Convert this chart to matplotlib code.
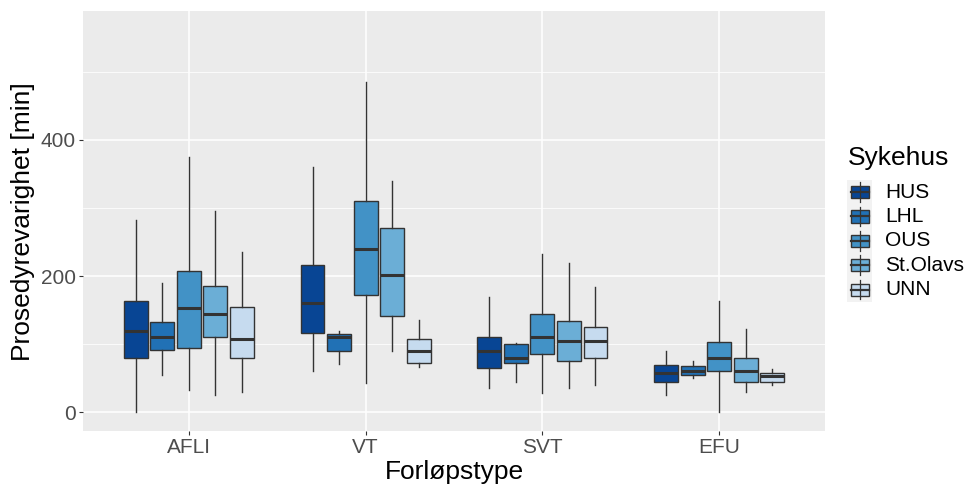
import matplotlib
matplotlib.use("Agg")
import matplotlib.pyplot as plt
from matplotlib.patches import Rectangle

plt.rcParams['font.family'] = ['Liberation Sans', 'DejaVu Sans']

# Data
categories = ['AFLI', 'VT', 'SVT', 'EFU']
hospitals = ['HUS', 'LHL', 'OUS', 'St.Olavs', 'UNN']
colors = ['#084594', '#2171B5', '#4292C6', '#6BAED6', '#C6DBEF']

# per hospital, one value per category
whis_lo = [[0, 60, 35, 25],
           [55, 71, 44, 50],
           [32, 43, 28, 0],
           [25, 90, 35, 30],
           [30, 66, 40, 40]]
q1 = [[80, 117, 65, 45],
      [91, 90, 73, 55],
      [95, 173, 85, 60],
      [110, 141, 75, 45],
      [80, 72, 80, 45]]
med = [[120, 160, 90, 58],
       [110, 111, 80, 61],
       [153, 240, 110, 80],
       [145, 201, 105, 61],
       [108, 90, 105, 53]]
q3 = [[163, 216, 111, 70],
      [132, 115, 100, 68],
      [208, 311, 144, 103],
      [185, 270, 134, 80],
      [155, 108, 125, 58]]
whis_hi = [[283, 360, 170, 90],
           [190, 120, 102, 76],
           [375, 485, 232, 163],
           [295, 339, 220, 122],
           [235, 135, 184, 64]]

W, H = 971, 488
fig = plt.figure(figsize=(W / 100, H / 100), dpi=100)
ax = fig.add_axes([82.7 / W, (H - 431) / H, (825.3 - 82.7) / W, (431 - 11.3) / H])
ax.set_facecolor('#EBEBEB')

edge = '#333333'
dodge = 0.15
width = 0.135
for j, name in enumerate(hospitals):
    stats = []
    for i, cat in enumerate(categories):
        stats.append({'whislo': whis_lo[j][i], 'q1': q1[j][i], 'med': med[j][i],
                      'q3': q3[j][i], 'whishi': whis_hi[j][i], 'fliers': []})
    pos = [i + 1 + (j - 2) * dodge for i in range(len(categories))]
    ax.bxp(stats, positions=pos, widths=width, showcaps=False, showfliers=False,
           patch_artist=True, manage_ticks=False,
           boxprops=dict(facecolor=colors[j], edgecolor=edge, linewidth=1.0),
           whiskerprops=dict(color=edge, linewidth=1.0),
           medianprops=dict(color=edge, linewidth=2.2, solid_capstyle='butt'),
           zorder=3)

ax.set_xlim(0.4, 4.6)
ax.set_ylim(-27.5, 589)
ax.set_xticks(range(1, len(categories) + 1))
ax.set_xticklabels(categories)
ax.set_yticks([0, 200, 400])
ax.set_yticks([100, 300, 500], minor=True)
ax.grid(True, which='major', color='white', linewidth=1.1, zorder=0)
ax.grid(True, which='minor', axis='y', color='white', linewidth=0.55, zorder=0)
ax.set_axisbelow(True)
for s in ax.spines.values():
    s.set_visible(False)
ax.tick_params(which='major', length=3, width=0.8, color=edge, labelsize=15,
               labelcolor='#4D4D4D', pad=2)
ax.tick_params(which='minor', length=0)

ax.set_xlabel('Forløpstype', fontsize=19, labelpad=2)
ax.set_ylabel('Prosedyrevarighet [min]', fontsize=19, labelpad=4)

# Legend drawn by hand in pixel coordinates
lax = fig.add_axes([0, 0, 1, 1], zorder=5)
lax.set_xlim(0, W)
lax.set_ylim(H, 0)
lax.axis('off')
lax.text(848, 158, 'Sykehus', fontsize=19, va='center', ha='left')
key = 24.4
y0 = 192
for j, name in enumerate(hospitals):
    yc = y0 + j * key
    lax.add_patch(Rectangle((847, yc - key / 2), key + 1, key, facecolor='#F2F2F2',
                            edgecolor='none'))
    xc = 847 + (key + 1) / 2
    lax.plot([xc, xc], [yc - 0.4 * key, yc + 0.4 * key], color=edge, lw=0.9)
    lax.add_patch(Rectangle((xc - 0.375 * key, yc - 0.25 * key), 0.75 * key, 0.5 * key,
                            facecolor=colors[j], edgecolor=edge, lw=1.0))
    lax.plot([xc - 0.375 * key, xc + 0.375 * key], [yc, yc], color=edge, lw=1.6)
    lax.text(885, yc, name, fontsize=15, va='center', ha='left')

fig.savefig('out.png', dpi=100)
